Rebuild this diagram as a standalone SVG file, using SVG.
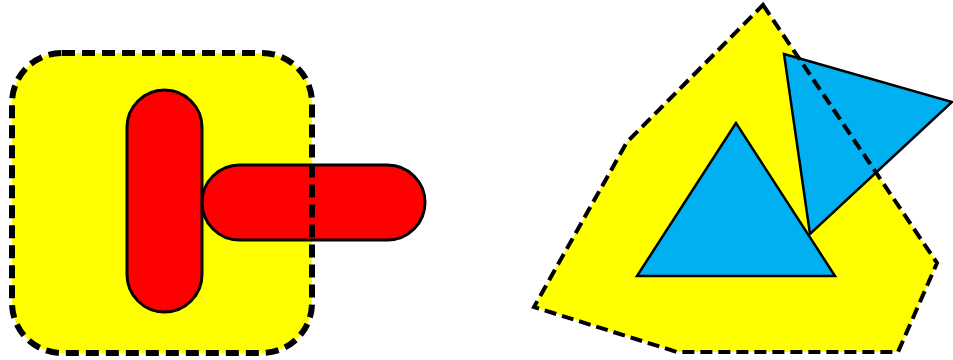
<svg xmlns="http://www.w3.org/2000/svg" width="953" height="360" viewBox="0 0 953 360">
<style>
.yfill{fill:#ffff00;stroke:none}
.pill{fill:#ff0000;stroke:#000;stroke-width:3}
.tri{fill:#00b0f0;stroke:#000;stroke-width:2.5;stroke-linejoin:miter}
.dash1{fill:none;stroke:#000;stroke-width:6;stroke-dasharray:13 7}
.dash2{fill:none;stroke:#000;stroke-width:4;stroke-dasharray:12 6;stroke-linejoin:miter}
</style>
<rect width="953" height="360" fill="#fff"/>
<g id="group-left">
<rect class="yfill" x="12" y="53" width="300" height="300" rx="50"/>
</g>
<g id="pill-vertical">
<rect class="pill" x="127" y="90" width="75" height="222" rx="37.5"/>
</g>
<g id="pill-horizontal">
<rect class="pill" x="202" y="165" width="223" height="75" rx="37.5"/>
</g>
<g id="group-left-border">
<rect class="dash1" x="12" y="53" width="300" height="300" rx="50"/>
</g>
<g id="group-right">
<polygon class="yfill" points="763,5 937,263 898,352 677,352 534,307 627,142"/>
</g>
<g id="triangle-1">
<polygon class="tri" points="736,123 637,276 835,276"/>
</g>
<g id="triangle-2">
<polygon class="tri" points="784,54 952,102 810,234"/>
</g>
<g id="group-right-border">
<polygon class="dash2" points="763,5 937,263 898,352 677,352 534,307 627,142"/>
</g>
<g id="connectors"></g>
</svg>
